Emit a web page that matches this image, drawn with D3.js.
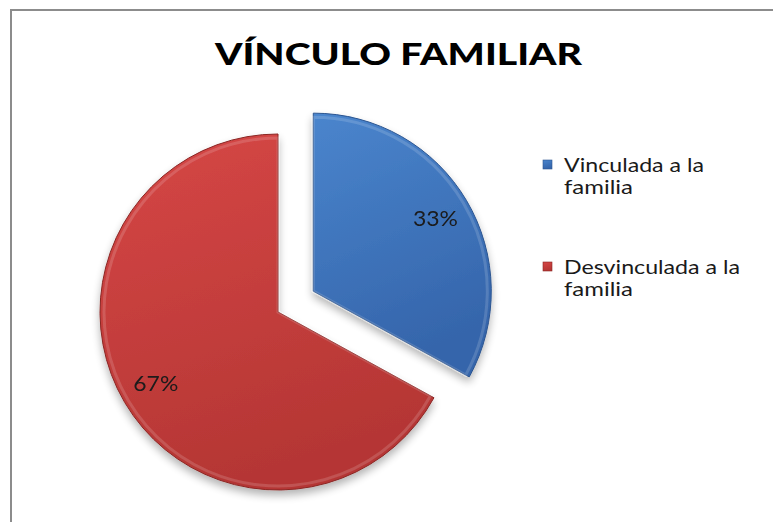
<!DOCTYPE html>
<html>
<head>
<meta charset="utf-8">
<script src="https://cdn.jsdelivr.net/npm/d3@7"></script>
<style>
  html, body { margin: 0; padding: 0; background: #fff; }
  svg { display: block; }
  text { font-family: Lato, "Open Sans", sans-serif; fill: #1a1a1a; }
</style>
</head>
<body>
<svg id="chart" width="773" height="522"></svg>
<script>
// data
const categories = ["Vinculada a la familia", "Desvinculada a la familia"]
const values = [33, 67]
const legendLines = [["Vinculada a la", "familia"], ["Desvinculada a la", "familia"]]
const title = "VÍNCULO FAMILIAR"

const fills = [
    { light: "#4a85cd", dark: "#3565ab", edge: "#2c5590" },
    { light: "#d64746", dark: "#b53634", edge: "#8a2624" }
]

const svg = d3.select("#chart")

// chart frame, runs off right/bottom edge like the screenshot
svg.append("rect")
    .attr("x", 11).attr("y", 10)
    .attr("width", 800).attr("height", 600)
    .attr("fill", "#fff")
    .attr("stroke", "#8c8c8c")
    .attr("stroke-width", 2)

// gradients + shadow
const defs = svg.append("defs")
fills.forEach((f, i) => {
    const g = defs.append("linearGradient")
        .attr("id", "grad" + i)
        .attr("x1", 0).attr("y1", 0).attr("x2", 0.3).attr("y2", 1)
    g.append("stop").attr("offset", "0%").attr("stop-color", f.light)
    g.append("stop").attr("offset", "100%").attr("stop-color", f.dark)
})
const shadow = defs.append("filter").attr("id", "shadow")
    .attr("x", "-20%").attr("y", "-20%").attr("width", "140%").attr("height", "140%")
shadow.append("feGaussianBlur").attr("in", "SourceAlpha").attr("stdDeviation", 4)
shadow.append("feOffset").attr("dx", 0).attr("dy", 5).attr("result", "off")
shadow.append("feComponentTransfer").append("feFuncA").attr("type", "linear").attr("slope", 0.3)
const merge = shadow.append("feMerge")
merge.append("feMergeNode")
merge.append("feMergeNode").attr("in", "SourceGraphic")

// title
svg.append("text")
    .attr("x", 398.5).attr("y", 65)
    .attr("text-anchor", "middle")
    .attr("font-size", 30)
    .attr("font-weight", "900")
    .attr("textLength", 367)
    .attr("lengthAdjust", "spacingAndGlyphs")
    .style("fill", "#000")
    .text(title)

// pie
const cx = 278, cy = 312
const radius = 178
const explode = [41, 0]
const total = d3.sum(values)
const pct = d3.format(".0%")

const pie = d3.pie().sort(null).value(d => d)
const arcs = pie(values)
const arc = d3.arc().innerRadius(0).outerRadius(radius)
const labelArc = d3.arc().innerRadius(142).outerRadius(142)

const pieG = svg.append("g")
    .attr("transform", `translate(${cx},${cy})`)
    .attr("filter", "url(#shadow)")

const slices = pieG.selectAll("g.slice")
    .data(arcs)
    .join("g")
    .attr("class", "slice")
    .attr("transform", (d, i) => {
        const a = (d.startAngle + d.endAngle) / 2
        return `translate(${Math.sin(a) * explode[i]},${-Math.cos(a) * explode[i]})`
    })

slices.append("path")
    .attr("d", arc)
    .attr("fill", (d, i) => `url(#grad${i})`)
    .attr("stroke", (d, i) => fills[i].edge)
    .attr("stroke-width", 1)
    .attr("stroke-linejoin", "round")

// inner bevel highlight
slices.append("path")
    .attr("d", d3.arc().innerRadius(0).outerRadius(radius - 4))
    .attr("fill", "none")
    .attr("stroke", "#fff")
    .attr("stroke-opacity", 0.15)
    .attr("stroke-width", 3)

slices.append("text")
    .attr("transform", d => {
        const [x, y] = labelArc.centroid(d)
        return `translate(${x},${y + 7})`
    })
    .attr("text-anchor", "middle")
    .attr("font-size", 21)
    .attr("textLength", 45)
    .attr("lengthAdjust", "spacingAndGlyphs")
    .text(d => pct(d.data / total))

// legend
const legend = svg.append("g").attr("transform", "translate(543,160)")
const legendY = d3.scaleOrdinal().domain(categories).range([0, 102])
const lineWidths = [[140, 69], [176, 69]]

const items = legend.selectAll("g")
    .data(categories)
    .join("g")
    .attr("transform", d => `translate(0,${legendY(d)})`)

items.append("rect")
    .attr("width", 9).attr("height", 9)
    .attr("fill", (d, i) => `url(#grad${i})`)
    .attr("stroke", (d, i) => fills[i].edge)
    .attr("stroke-width", 0.6)

items.each(function (d, i) {
    const t = d3.select(this).append("text")
        .attr("font-size", 20)
    legendLines[i].forEach((line, j) => {
        t.append("tspan")
            .attr("x", 21)
            .attr("y", 12 + j * 22)
            .attr("textLength", lineWidths[i][j])
            .attr("lengthAdjust", "spacingAndGlyphs")
            .text(line)
    })
})
</script>
</body>
</html>
